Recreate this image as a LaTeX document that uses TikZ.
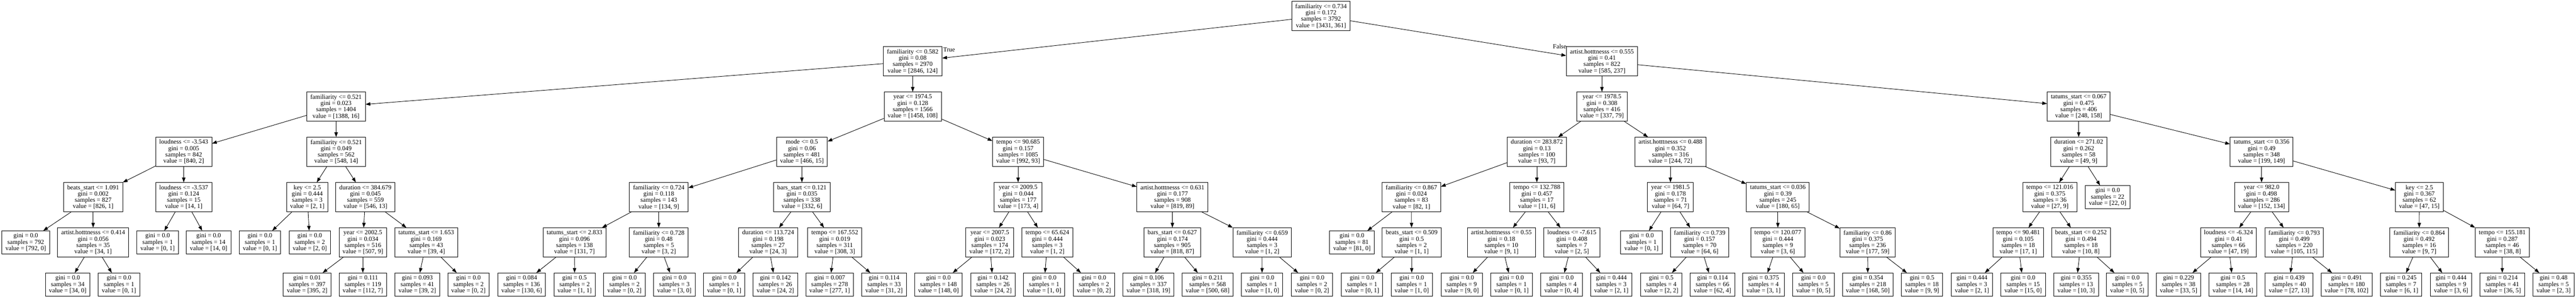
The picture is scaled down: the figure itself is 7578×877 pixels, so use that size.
\documentclass[tikz,border=0pt]{standalone}
\usepackage{fontspec}
\setmainfont{Liberation Serif}
\usetikzlibrary{arrows.meta}
\newcommand{\mksplit}[8]{\node[split] (#1) at (#2,#3) {#4\\gini = #5\\samples = #6\\value = [#7, #8]};}
\newcommand{\mkleaf}[7]{\node[leafbox] (#1) at (#2,#3) {gini = #4\\samples = #5\\value = [#6, #7]};}
\tikzset{
  boxbase/.style={draw=black, line width=1pt, rectangle, align=center,
    font=\fontsize{14pt}{14pt}\selectfont, inner xsep=7.9pt, inner ysep=1pt},
  split/.style={boxbase, minimum height=64.5pt},
  leafbox/.style={boxbase, minimum height=51pt},
  edge/.style={draw=black, line width=1pt, -{Triangle[length=10.5pt,width=7.5pt]}},
  elabel/.style={font=\fontsize{14pt}{14pt}\selectfont, inner sep=0pt, anchor=base}
}
\begin{document}
\begin{tikzpicture}[x=0.75pt, y=-0.75pt]
\fill[white] (0,0) rectangle (7578,877);
\useasboundingbox (0,0) rectangle (7578,877);
% depth 0
\mksplit{r}{3886}{47.3}{familiarity <= 0.734}{0.172}{3792}{3431}{361}
% depth 1
\mksplit{a}{2685}{180.7}{familiarity <= 0.582}{0.08}{2970}{2846}{124}
\mksplit{b}{4712.5}{180.7}{artist.hotttnesss <= 0.555}{0.41}{822}{585}{237}
% depth 2
\mksplit{aa}{988.5}{314}{familiarity <= 0.521}{0.023}{1404}{1388}{16}
\mksplit{ab}{2685}{314}{year <= 1974.5}{0.128}{1566}{1458}{108}
\mksplit{ba}{4712.5}{314}{year <= 1978.5}{0.308}{416}{337}{79}
\mksplit{bb}{6115}{314}{tatums\_start <= 0.067}{0.475}{406}{248}{158}
% depth 3
\mksplit{aaa}{540.5}{447.3}{loudness <= -3.543}{0.005}{842}{840}{2}
\mksplit{aab}{989}{447.3}{familiarity <= 0.521}{0.049}{562}{548}{14}
\mksplit{aba}{2359}{447.3}{mode <= 0.5}{0.06}{481}{466}{15}
\mksplit{abb}{2995}{447.3}{tempo <= 90.685}{0.157}{1085}{992}{93}
\mksplit{baa}{4521}{447.3}{duration <= 283.872}{0.13}{100}{93}{7}
\mksplit{bab}{4914}{447.3}{artist.hotttnesss <= 0.488}{0.352}{316}{244}{72}
\mksplit{bba}{6115}{447.3}{duration <= 271.02}{0.262}{58}{49}{9}
\mksplit{bbb}{6653}{447.3}{tatums\_start <= 0.356}{0.49}{348}{199}{149}
% depth 4
\mksplit{aaaa}{274}{580.7}{beats\_start <= 1.091}{0.002}{827}{826}{1}
\mksplit{aaab}{540.5}{580.7}{loudness <= -3.537}{0.124}{15}{14}{1}
\mksplit{aaba}{904}{580.7}{key <= 2.5}{0.444}{3}{2}{1}
\mksplit{aabb}{1075}{580.7}{duration <= 384.679}{0.045}{559}{546}{13}
\mksplit{abaa}{1938}{580.7}{familiarity <= 0.724}{0.118}{143}{134}{9}
\mksplit{abab}{2359}{580.7}{bars\_start <= 0.121}{0.035}{338}{332}{6}
\mksplit{abba}{2995}{580.7}{year <= 2009.5}{0.044}{177}{173}{4}
\mksplit{abbb}{3449}{580.7}{artist.hotttnesss <= 0.631}{0.177}{908}{819}{89}
\mksplit{baaa}{4152}{580.7}{familiarity <= 0.867}{0.024}{83}{82}{1}
\mksplit{baab}{4521}{580.7}{tempo <= 132.788}{0.457}{17}{11}{6}
\mksplit{baba}{4914}{580.7}{year <= 1981.5}{0.178}{71}{64}{7}
\mksplit{babb}{5230}{580.7}{tatums\_start <= 0.036}{0.39}{245}{180}{65}
\mksplit{bbaa}{6030}{580.7}{tempo <= 121.016}{0.375}{36}{27}{9}
\mkleaf{bbab}{6200}{580.7}{0.0}{22}{22}{0}
\mksplit{bbba}{6653}{580.7}{year <= 982.0}{0.498}{286}{152}{134}
\mksplit{bbbb}{7117}{580.7}{key <= 2.5}{0.367}{62}{47}{15}
% depth 5
\mkleaf{aaaaa}{75.8}{714}{0.0}{792}{792}{0}
\mksplit{aaaab}{274}{714}{artist.hotttnesss <= 0.414}{0.056}{35}{34}{1}
\mkleaf{aaaba}{463.7}{714}{0.0}{1}{0}{1}
\mkleaf{aaabb}{613.8}{714}{0.0}{14}{14}{0}
\mkleaf{aabaa}{764.7}{714}{0.0}{1}{0}{1}
\mkleaf{aabab}{911.3}{714}{0.0}{2}{2}{0}
\mksplit{aabba}{1067.4}{714}{year <= 2002.5}{0.034}{516}{507}{9}
\mksplit{aabbb}{1254}{714}{tatums\_start <= 1.653}{0.169}{43}{39}{4}
\mksplit{abaaa}{1690}{714}{tatums\_start <= 2.833}{0.096}{138}{131}{7}
\mksplit{abaab}{1938}{714}{familiarity <= 0.728}{0.48}{5}{3}{2}
\mksplit{ababa}{2259.5}{714}{duration <= 113.724}{0.198}{27}{24}{3}
\mksplit{ababb}{2455.6}{714}{tempo <= 167.552}{0.019}{311}{308}{3}
\mksplit{abbaa}{2911.6}{714}{year <= 2007.5}{0.023}{174}{172}{2}
\mksplit{abbab}{3081}{714}{tempo <= 65.624}{0.444}{3}{1}{2}
\mksplit{abbba}{3448.8}{714}{bars\_start <= 0.627}{0.174}{905}{818}{87}
\mksplit{abbbb}{3713}{714}{familiarity <= 0.659}{0.444}{3}{1}{2}
\mkleaf{baaaa}{3977}{714}{0.0}{81}{81}{0}
\mksplit{baaab}{4152.7}{714}{beats\_start <= 0.509}{0.5}{2}{1}{1}
\mksplit{baaba}{4416.7}{714}{artist.hotttnesss <= 0.55}{0.18}{10}{9}{1}
\mksplit{baabb}{4624}{714}{loudness <= -7.615}{0.408}{7}{2}{5}
\mkleaf{babaa}{4828.8}{714}{0.0}{1}{0}{1}
\mksplit{babab}{5000}{714}{familiarity <= 0.739}{0.157}{70}{64}{6}
\mksplit{babba}{5230}{714}{tempo <= 120.077}{0.444}{9}{3}{6}
\mksplit{babbb}{5494}{714}{familiarity <= 0.86}{0.375}{236}{177}{59}
\mksplit{bbaaa}{5937}{714}{tempo <= 90.481}{0.105}{18}{17}{1}
\mksplit{bbaab}{6121.7}{714}{beats\_start <= 0.252}{0.494}{18}{10}{8}
\mksplit{bbbaa}{6555.6}{714}{loudness <= -6.324}{0.41}{66}{47}{19}
\mksplit{bbbab}{6749}{714}{familiarity <= 0.793}{0.499}{220}{105}{115}
\mksplit{bbbba}{7116.7}{714}{familiarity <= 0.864}{0.492}{16}{9}{7}
\mksplit{bbbbb}{7361}{714}{tempo <= 155.181}{0.287}{46}{38}{8}
% depth 6
\mkleaf{aaaaba}{199.2}{838}{0.0}{34}{34}{0}
\mkleaf{aaaabb}{350}{838}{0.0}{1}{0}{1}
\mkleaf{aabbaa}{903.5}{838}{0.01}{397}{395}{2}
\mkleaf{aabbab}{1067.4}{838}{0.111}{119}{112}{7}
\mkleaf{aabbba}{1227.7}{838}{0.093}{41}{39}{2}
\mkleaf{aabbbb}{1378}{838}{0.0}{2}{0}{2}
\mkleaf{abaaaa}{1534.5}{838}{0.084}{136}{130}{6}
\mkleaf{abaaab}{1690.3}{838}{0.5}{2}{1}{1}
\mkleaf{abaaba}{1837}{838}{0.0}{2}{0}{2}
\mkleaf{abaabb}{1983.8}{838}{0.0}{3}{3}{0}
\mkleaf{ababaa}{2130.5}{838}{0.0}{1}{0}{1}
\mkleaf{ababab}{2281}{838}{0.142}{26}{24}{2}
\mkleaf{ababba}{2440.6}{838}{0.007}{278}{277}{1}
\mkleaf{ababbb}{2600.6}{838}{0.114}{33}{31}{2}
\mkleaf{abbaaa}{2760.7}{838}{0.0}{148}{148}{0}
\mkleaf{abbaab}{2921}{838}{0.142}{26}{24}{2}
\mkleaf{abbaba}{3071.6}{838}{0.0}{1}{1}{0}
\mkleaf{abbabb}{3218}{838}{0.0}{2}{0}{2}
\mkleaf{abbbaa}{3378.3}{838}{0.106}{337}{318}{19}
\mkleaf{abbbab}{3552.4}{838}{0.211}{568}{500}{68}
\mkleaf{abbbba}{3712.5}{838}{0.0}{1}{1}{0}
\mkleaf{abbbbb}{3859.6}{838}{0.0}{2}{0}{2}
\mkleaf{baaaba}{4006.8}{838}{0.0}{1}{0}{1}
\mkleaf{baaabb}{4153}{838}{0.0}{1}{1}{0}
\mkleaf{baabaa}{4299.9}{838}{0.0}{9}{9}{0}
\mkleaf{baabab}{4446.6}{838}{0.0}{1}{0}{1}
\mkleaf{baabba}{4593.4}{838}{0.0}{4}{0}{4}
\mkleaf{baabbb}{4740}{838}{0.444}{3}{2}{1}
\mkleaf{bababa}{4887}{838}{0.5}{4}{2}{2}
\mkleaf{bababb}{5037.7}{838}{0.114}{66}{62}{4}
\mkleaf{babbaa}{5187.8}{838}{0.375}{4}{3}{1}
\mkleaf{babbab}{5334.5}{838}{0.0}{5}{0}{5}
\mkleaf{babbba}{5494.6}{838}{0.354}{218}{168}{50}
\mkleaf{babbbb}{5654}{838}{0.5}{18}{9}{9}
\mkleaf{bbaaaa}{5801}{838}{0.444}{3}{2}{1}
\mkleaf{bbaaab}{5951.4}{838}{0.0}{15}{15}{0}
\mkleaf{bbaaba}{6107.7}{838}{0.355}{13}{10}{3}
\mkleaf{bbaabb}{6258}{838}{0.0}{5}{0}{5}
\mkleaf{bbbaaa}{6408.8}{838}{0.229}{38}{33}{5}
\mkleaf{bbbaab}{6568.6}{838}{0.5}{28}{14}{14}
\mkleaf{bbbaba}{6734}{838}{0.439}{40}{27}{13}
\mkleaf{bbbabb}{6903}{838}{0.491}{180}{78}{102}
\mkleaf{bbbbaa}{7063.3}{838}{0.245}{7}{6}{1}
\mkleaf{bbbbab}{7210.5}{838}{0.444}{9}{3}{6}
\mkleaf{bbbbba}{7361}{838}{0.214}{41}{36}{5}
\mkleaf{bbbbbb}{7512}{838}{0.48}{5}{2}{3}
% edges
\foreach \p/\c in {r/a, r/b, a/aa, a/ab, b/ba, b/bb,
  aa/aaa, aa/aab, ab/aba, ab/abb, ba/baa, ba/bab, bb/bba, bb/bbb,
  aaa/aaaa, aaa/aaab, aab/aaba, aab/aabb, aba/abaa, aba/abab, abb/abba, abb/abbb,
  baa/baaa, baa/baab, bab/baba, bab/babb, bba/bbaa, bba/bbab, bbb/bbba, bbb/bbbb,
  aaaa/aaaaa, aaaa/aaaab, aaab/aaaba, aaab/aaabb, aaba/aabaa, aaba/aabab,
  aabb/aabba, aabb/aabbb, abaa/abaaa, abaa/abaab, abab/ababa, abab/ababb,
  abba/abbaa, abba/abbab, abbb/abbba, abbb/abbbb, baaa/baaaa, baaa/baaab,
  baab/baaba, baab/baabb, baba/babaa, baba/babab, babb/babba, babb/babbb,
  bbaa/bbaaa, bbaa/bbaab, bbba/bbbaa, bbba/bbbab, bbbb/bbbba, bbbb/bbbbb,
  aaaab/aaaaba, aaaab/aaaabb, aabba/aabbaa, aabba/aabbab, aabbb/aabbba, aabbb/aabbbb,
  abaaa/abaaaa, abaaa/abaaab, abaab/abaaba, abaab/abaabb, ababa/ababaa, ababa/ababab,
  ababb/ababba, ababb/ababbb, abbaa/abbaaa, abbaa/abbaab, abbab/abbaba, abbab/abbabb,
  abbba/abbbaa, abbba/abbbab, abbbb/abbbba, abbbb/abbbbb, baaab/baaaba, baaab/baaabb,
  baaba/baabaa, baaba/baabab, baabb/baabba, baabb/baabbb, babab/bababa, babab/bababb,
  babba/babbaa, babba/babbab, babbb/babbba, babbb/babbbb, bbaaa/bbaaaa, bbaaa/bbaaab,
  bbaab/bbaaba, bbaab/bbaabb, bbbaa/bbbaaa, bbbaa/bbbaab, bbbab/bbbaba, bbbab/bbbabb,
  bbbba/bbbbaa, bbbba/bbbbab, bbbbb/bbbbba, bbbbb/bbbbbb}
  \draw[edge] (\p) -- (\c);
% edge labels
\node[elabel] (truelabel) at (2792,152) {True};
\node[elabel] (falselabel) at (4588,143) {False};
\end{tikzpicture}
\end{document}
